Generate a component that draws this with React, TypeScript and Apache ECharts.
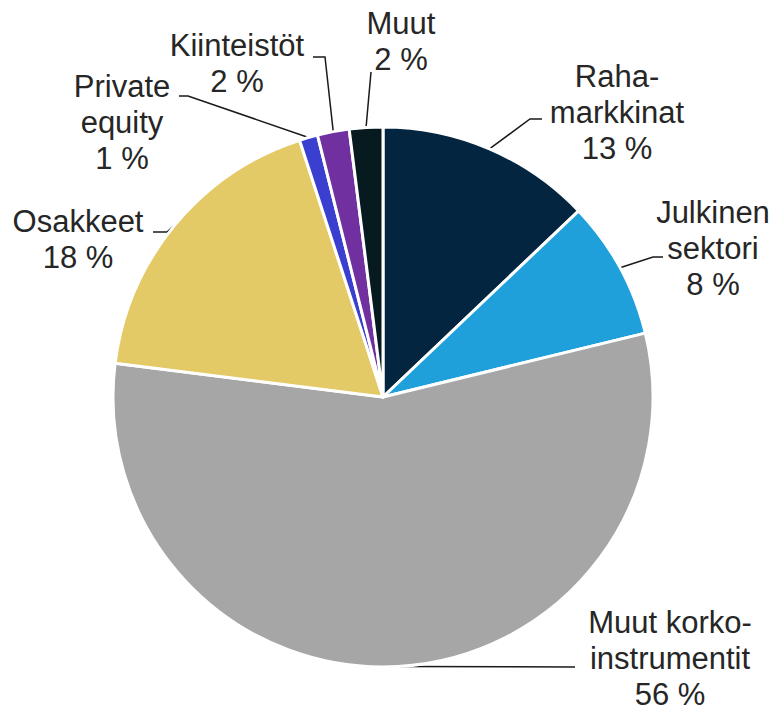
import React, { useEffect, useRef } from "react";
import * as echarts from "echarts";

// Data
const categories = [
  "Raha-\nmarkkinat",
  "Julkinen\nsektori",
  "Muut korko-\ninstrumentit",
  "Osakkeet",
  "Private\nequity",
  "Kiinteistöt",
  "Muut",
];
const shares = [12.9, 8.3, 55.8, 18.0, 1.1, 1.9, 2.0];
const colors = ["#03253F", "#1FA0DB", "#A6A6A6", "#E4CA66", "#3B3FCF", "#7030A0", "#061A20"];

// Label layout (pixel positions of label centres and leader-line bends)
const labelCenters: number[][] = [
  [617, 112],
  [713, 248],
  [670, 658],
  [78, 239],
  [122, 122],
  [237, 63],
  [401, 41],
];
const leaderBends: number[][][] = [
  [[530, 119], [542, 119]],
  [[653, 257], [663, 257]],
  [[574, 667], [575, 667]],
  [[167, 232], [153, 232]],
  [[188, 96], [179, 96]],
  [[325, 57], [313, 57]],
  [[371, 72], [371, 72]],
];

export default function App() {
  const ref = useRef<HTMLDivElement>(null);
  useEffect(() => {
    if (!ref.current) return;
    const chart = echarts.init(ref.current, null, { renderer: "svg" });
    chart.setOption({
      animation: false,
      backgroundColor: "#ffffff",
      series: [
        {
          type: "pie",
          center: [383, 397],
          radius: [0, 270],
          startAngle: 90,
          clockwise: true,
          avoidLabelOverlap: false,
          itemStyle: { borderColor: "#ffffff", borderWidth: 3 },
          label: {
            show: true,
            position: "outside",
            formatter: (p: any) => `${p.name}\n${Math.round(p.value)} %`,
            fontFamily: "'Liberation Sans', Arial, sans-serif",
            fontSize: 31,
            lineHeight: 36,
            color: "#262626",
            align: "center",
          },
          labelLine: {
            show: true,
            lineStyle: { color: "#1a1a1a", width: 1.5 },
          },
          labelLayout: (params: any) => {
            const i = params.dataIndex;
            const start = params.labelLinePoints ? params.labelLinePoints[0] : null;
            const res: any = {
              x: labelCenters[i][0],
              y: labelCenters[i][1],
              align: "center",
              verticalAlign: "middle",
            };
            if (start) {
              res.labelLinePoints = [start, leaderBends[i][0], leaderBends[i][1]];
            }
            return res;
          },
          data: categories.map((name, i) => ({
            name,
            value: shares[i],
            itemStyle: { color: colors[i] },
          })),
        },
      ],
    });
    return () => chart.dispose();
  }, []);
  return (
    <div
      ref={ref}
      style={{ position: "fixed", left: 0, top: 0, width: 779, height: 708 }}
    />
  );
}
